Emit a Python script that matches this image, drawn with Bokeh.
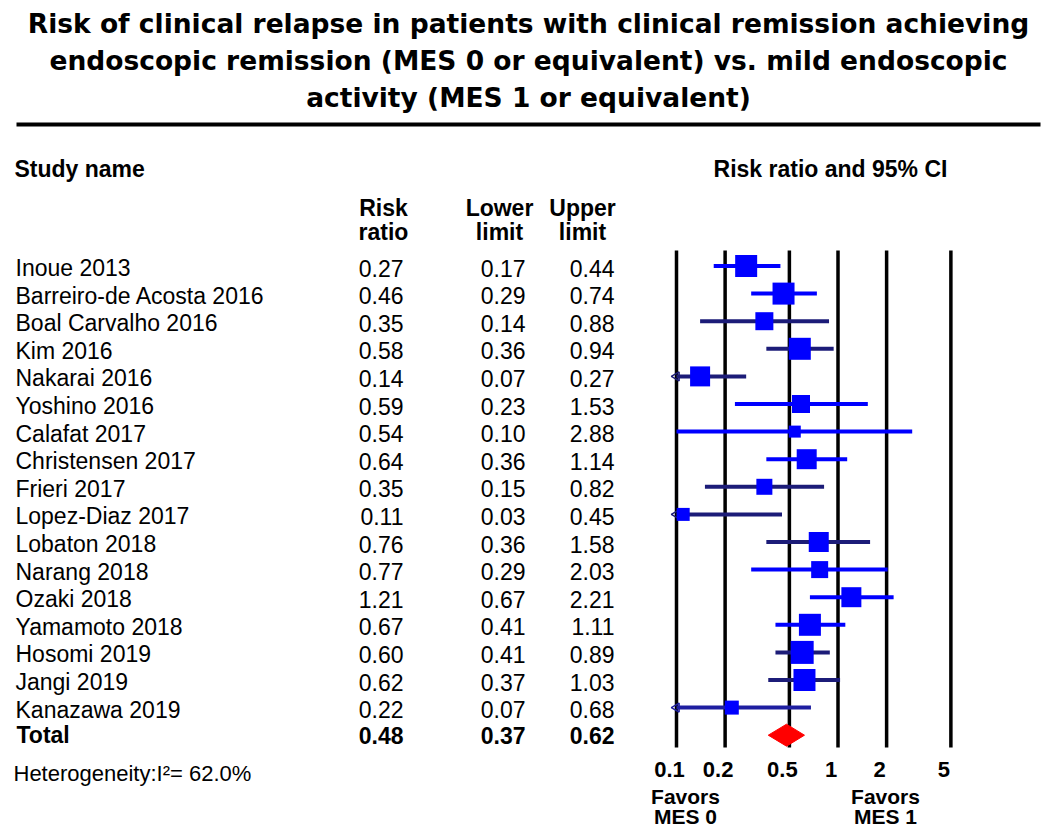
import math
from bokeh.plotting import figure
from bokeh.models import Range1d, LogScale
from bokeh.core.properties import value
from bokeh.embed import file_html
from bokeh.resources import INLINE

# ---------------- data ----------------
title_lines = [
    "Risk of clinical relapse in patients with clinical remission achieving",
    "endoscopic remission (MES 0 or equivalent) vs. mild endoscopic",
    "activity (MES 1 or equivalent)",
]
studies = ["Inoue 2013", "Barreiro-de Acosta 2016", "Boal Carvalho 2016", "Kim 2016",
           "Nakarai 2016", "Yoshino 2016", "Calafat 2017", "Christensen 2017",
           "Frieri 2017", "Lopez-Diaz 2017", "Lobaton 2018", "Narang 2018",
           "Ozaki 2018", "Yamamoto 2018", "Hosomi 2019", "Jangi 2019", "Kanazawa 2019"]
risk_ratio = [0.27, 0.46, 0.35, 0.58, 0.14, 0.59, 0.54, 0.64, 0.35, 0.11,
              0.76, 0.77, 1.21, 0.67, 0.60, 0.62, 0.22]
lower_limit = [0.17, 0.29, 0.14, 0.36, 0.07, 0.23, 0.10, 0.36, 0.15, 0.03,
               0.36, 0.29, 0.67, 0.41, 0.41, 0.37, 0.07]
upper_limit = [0.44, 0.74, 0.88, 0.94, 0.27, 1.53, 2.88, 1.14, 0.82, 0.45,
               1.58, 2.03, 2.21, 1.11, 0.89, 1.03, 0.68]
total_label = "Total"
total_rr, total_lo, total_hi = 0.48, 0.37, 0.62
tick_values = [0.1, 0.2, 0.5, 1, 2, 5]
tick_labels = ["0.1", "0.2", "0.5", "1", "2", "5"]
heterogeneity = "Heterogeneity:I\u00b2= 62.0%"

# ---------------- styles ----------------
square_size = [22, 22, 18, 22, 20, 18, 12, 20, 16, 13, 20, 17, 20, 22, 23, 22, 14]
BLUE, NAVY = "#0000ff", "#1c1c78"
line_colors = [BLUE, BLUE, NAVY, NAVY, NAVY, BLUE, BLUE, BLUE, NAVY, NAVY,
               NAVY, BLUE, BLUE, BLUE, NAVY, NAVY, "#1e1ea0"]
FONT = value("Liberation Sans")
TFONT = value("DejaVu Sans")

W, H = 1042, 832
p = figure(width=W, height=H, output_backend="svg", toolbar_location=None,
           x_range=Range1d(0, W), y_range=Range1d(H, 0),
           x_axis_type=None, y_axis_type=None, min_border=0,
           background_fill_color="white", border_fill_color="white")
p.grid.visible = False
p.outline_line_color = None

# log scale for the forest panel
px_at_01 = 676.0
px_per_decade = 161.5
rr_lo = 10 ** (-1 - px_at_01 / px_per_decade)
rr_hi = 10 ** (-1 + (W - px_at_01) / px_per_decade)
p.extra_x_ranges = {"rr": Range1d(rr_lo, rr_hi)}
p.extra_x_scales = {"rr": LogScale()}

n = len(studies)
row_y0, row_dy = 265.5, 27.6
ys = [row_y0 + i * row_dy for i in range(n)]
total_y = row_y0 + n * row_dy
ty = [y + 2 for y in ys]

# title
p.text(x=[528] * 3, y=[23, 60, 97], text=title_lines, text_font=TFONT,
       text_font_style="bold", text_font_size="26.5px", text_align="center",
       text_baseline="middle", text_color="black")
p.segment(x0=[16], y0=[124], x1=[1040], y1=[124], line_width=4, line_color="black")

# headers
p.text(x=[14], y=[168], text=["Study name"], text_font=FONT, text_font_style="bold",
       text_font_size="23px", text_baseline="middle")
p.text(x=[830], y=[168], text=["Risk ratio and 95% CI"], text_font=FONT,
       text_font_style="bold", text_font_size="23px", text_baseline="middle",
       text_align="center")
p.text(x=[383, 499, 582, 383, 499, 582], y=[207, 207, 207, 231, 231, 231],
       text=["Risk", "Lower", "Upper", "ratio", "limit", "limit"], text_font=FONT,
       text_font_style="bold", text_font_size="23px", text_baseline="middle",
       text_align="center")

# table body
p.text(x=[15] * n, y=ty, text=studies, text_font=FONT, text_font_size="23px",
       text_baseline="middle")
for col_x, vals in ((403, risk_ratio), (525, lower_limit), (614, upper_limit)):
    p.text(x=[col_x] * n, y=ty, text=[f"{v:.2f}" for v in vals], text_font=FONT,
           text_font_size="23px", text_baseline="middle", text_align="right")
p.text(x=[16], y=[total_y], text=[total_label], text_font=FONT, text_font_style="bold",
       text_font_size="23px", text_baseline="middle")
p.text(x=[403, 525, 614], y=[total_y] * 3,
       text=[f"{v:.2f}" for v in (total_rr, total_lo, total_hi)], text_font=FONT,
       text_font_style="bold", text_font_size="23px", text_baseline="middle",
       text_align="right")
p.text(x=[13], y=[773], text=[heterogeneity], text_font=FONT, text_font_size="22px",
       text_baseline="middle")

# forest panel
axis_min = tick_values[0]
p.segment(x0=tick_values, y0=[250] * len(tick_values), x1=tick_values,
          y1=[747] * len(tick_values), x_range_name="rr", line_width=3.5,
          line_color="black")
ci_lo = [max(v, axis_min) for v in lower_limit]
p.segment(x0=ci_lo, y0=ys, x1=upper_limit, y1=ys, x_range_name="rr",
          line_width=4, line_color=line_colors)
arrow_y = [y for y, lo in zip(ys, lower_limit) if lo < axis_min]
arrow_c = [c for c, lo in zip(line_colors, lower_limit) if lo < axis_min]
p.scatter(x=[axis_min] * len(arrow_y), y=arrow_y, marker="triangle", angle=math.pi / 2,
          size=9, fill_color=None, line_color=arrow_c, line_width=1.5, x_range_name="rr")
p.scatter(x=risk_ratio, y=ys, marker="square", size=square_size, fill_color=BLUE,
          line_color=None, x_range_name="rr")
p.patch(x=[total_lo, total_rr, total_hi, total_rr],
        y=[total_y, total_y - 11, total_y, total_y + 11],
        x_range_name="rr", fill_color="#ff0000", line_color="#ff0000")

# tick labels
p.text(x=tick_values, y=[769] * len(tick_values), text=tick_labels, x_range_name="rr",
       x_offset=-7, text_font=FONT, text_font_style="bold", text_font_size="22px",
       text_align="center", text_baseline="middle")
p.text(x=[685, 685, 885, 885], y=[796, 816, 796, 816],
       text=["Favors", "MES 0", "Favors", "MES 1"], text_font=FONT,
       text_font_style="bold", text_font_size="21px", text_align="center",
       text_baseline="middle")

open("out.html", "w").write(file_html(p, INLINE))
